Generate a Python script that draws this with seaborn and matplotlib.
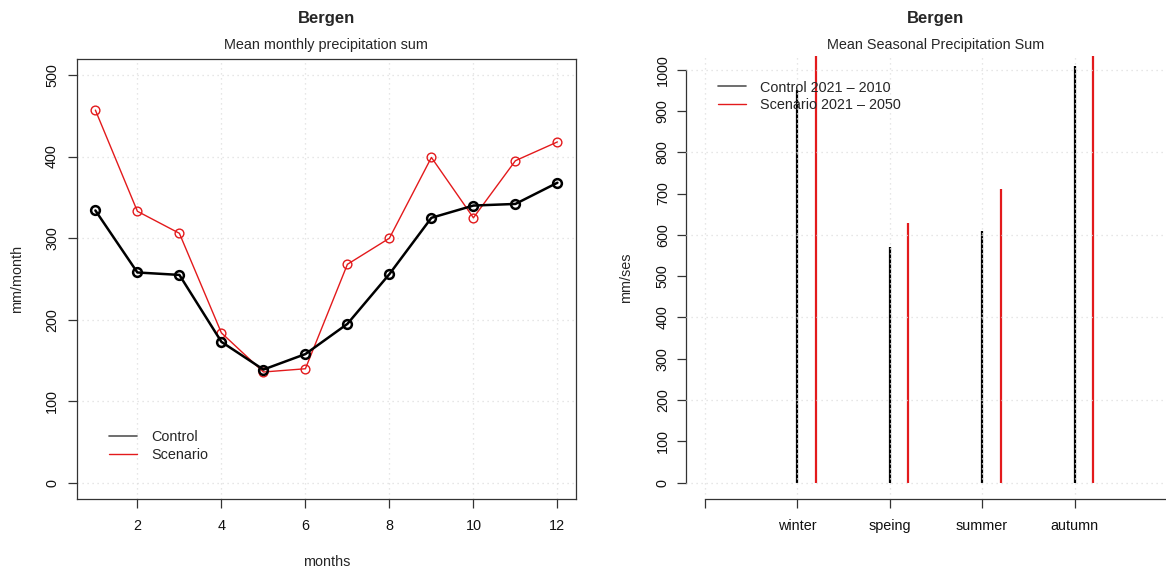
import matplotlib
matplotlib.use("Agg")
import matplotlib.pyplot as plt
import pandas as pd
import seaborn as sns
from matplotlib.lines import Line2D

# Monthly mean precipitation (mm/month), Bergen
months = list(range(1, 13))
control_monthly = [334, 258, 255, 173, 139, 158, 195, 256, 325, 340, 342, 368]
scenario_monthly = [457, 333, 306, 184, 136, 140, 268, 300, 399, 325, 395, 418]

# Seasonal sums (mm/season)
seasons = ["winter", "speing", "summer", "autumn"]
control_seasonal = [950, 570, 610, 1010]
scenario_seasonal = [1120, 628, 710, 1160]

sns.set_style("white")
plt.rcParams["font.family"] = ["Liberation Sans", "DejaVu Sans"]
plt.rcParams["font.size"] = 10.4

RED = "#e31a1c"
AX_COL = "#333333"
GRID = dict(color="#dedede", linestyle=(0, (1, 3)), linewidth=0.9)

W, H = 1166, 572
fig = plt.figure(figsize=(W / 100, H / 100), dpi=100)


def axes_px(x0, y0, x1, y1):
    """Axes from a pixel box given as left, top, right, bottom."""
    return fig.add_axes([x0 / W, 1 - y1 / H, (x1 - x0) / W, (y1 - y0) / H])


def r_ticks(ax, ypad):
    ax.tick_params(axis="both", which="major", direction="out", length=6.5,
                   width=0.9, color=AX_COL, labelcolor="#111111",
                   bottom=True, left=True, top=False, right=False)
    ax.tick_params(axis="x", pad=7.6)
    ax.tick_params(axis="y", pad=ypad)
    for t in ax.get_yticklabels():
        t.set_rotation(90)
        t.set_va("center")


# ---------------- monthly panel ----------------
axL = axes_px(76.9, 58.7, 575.9, 499.3)
monthly = pd.DataFrame({"month": months,
                        "Control": control_monthly,
                        "Scenario": scenario_monthly})

for x in range(2, 13, 2):
    axL.axvline(x, zorder=0, **GRID)
for y in range(0, 501, 100):
    axL.axhline(y, zorder=0, **GRID)

sns.lineplot(data=monthly, x="month", y="Scenario", ax=axL, color=RED,
             linewidth=1.0, marker="o", markersize=6.3, markerfacecolor="none",
             markeredgecolor=RED, markeredgewidth=1.0, legend=False, zorder=3)
sns.lineplot(data=monthly, x="month", y="Control", ax=axL, color="black",
             linewidth=1.8, marker="o", markersize=6.3, markerfacecolor="none",
             markeredgecolor="black", markeredgewidth=1.8, legend=False, zorder=4)

axL.set_xlim(0.56, 12.44)
axL.set_ylim(-20, 520)
axL.set_xticks(range(2, 13, 2))
axL.set_yticks(range(0, 501, 100))
for s in axL.spines.values():
    s.set_visible(True)
    s.set_color(AX_COL)
    s.set_linewidth(0.9)
r_ticks(axL, 6.3)
axL.set_xlabel("months")
axL.set_ylabel("mm/month")
axL.xaxis.set_label_coords(0.5, -0.127)
axL.yaxis.set_label_coords(-0.106, 0.5)

axL.legend(handles=[Line2D([], [], color="#555555", lw=1.2),
                    Line2D([], [], color=RED, lw=1.0)],
           labels=["Control", "Scenario"],
           loc="upper left", bbox_to_anchor=(109 / W, 1 - 430 / H),
           bbox_transform=fig.transFigure, frameon=False, borderpad=0,
           borderaxespad=0, handlelength=1.94, handletextpad=0.97,
           labelspacing=0.25)

fig.text(326.4 / W, 1 - 18.3 / H, "Bergen", ha="center", va="center",
         fontsize=12, fontweight="bold")
fig.text(326.4 / W, 1 - 45 / H, "Mean monthly precipitation sum",
         ha="center", va="center", fontsize=10.4)

# ---------------- seasonal panel ----------------
axR = axes_px(686, 56, 1185.6, 499.2)
pos = list(range(1, len(seasons) + 1))
offset = 0.2

axR.vlines(pos, 0, control_seasonal, color="black", linewidth=1.6, zorder=2)
axR.vlines([p + offset for p in pos], 0, scenario_seasonal, color=RED,
           linewidth=1.6, zorder=2)

for x in range(0, 6):
    axR.axvline(x, zorder=3, **GRID)
for y in range(0, 1001, 200):
    axR.axhline(y, zorder=3, **GRID)

axR.set_xlim(-0.2, 5.2)
axR.set_ylim(-40, 1033)
axR.set_xticks(range(0, 6))
axR.set_xticklabels([""] + seasons + [""])
axR.set_yticks(range(0, 1001, 100))
for side in ("top", "right"):
    axR.spines[side].set_visible(False)
for side in ("left", "bottom"):
    axR.spines[side].set_color(AX_COL)
    axR.spines[side].set_linewidth(0.9)
axR.spines["left"].set_bounds(0, 1000)
axR.spines["bottom"].set_bounds(0, 5)
r_ticks(axR, 5.2)
axR.set_ylabel("mm/ses")
axR.yaxis.set_label_coords(-0.106, 0.5)

axR.legend(handles=[Line2D([], [], color="#555555", lw=1.2),
                    Line2D([], [], color=RED, lw=1.0)],
           labels=["Control 2021 – 2010", "Scenario 2021 – 2050"],
           loc="upper left", bbox_to_anchor=(718 / W, 1 - 80.5 / H),
           bbox_transform=fig.transFigure, frameon=False, borderpad=0,
           borderaxespad=0, handlelength=1.94, handletextpad=0.97,
           labelspacing=0.25)

fig.text(935.8 / W, 1 - 18.3 / H, "Bergen", ha="center", va="center",
         fontsize=12, fontweight="bold")
fig.text(935.8 / W, 1 - 45 / H, "Mean Seasonal Precipitation Sum",
         ha="center", va="center", fontsize=10.4)

fig.savefig("out.png", dpi=100)
